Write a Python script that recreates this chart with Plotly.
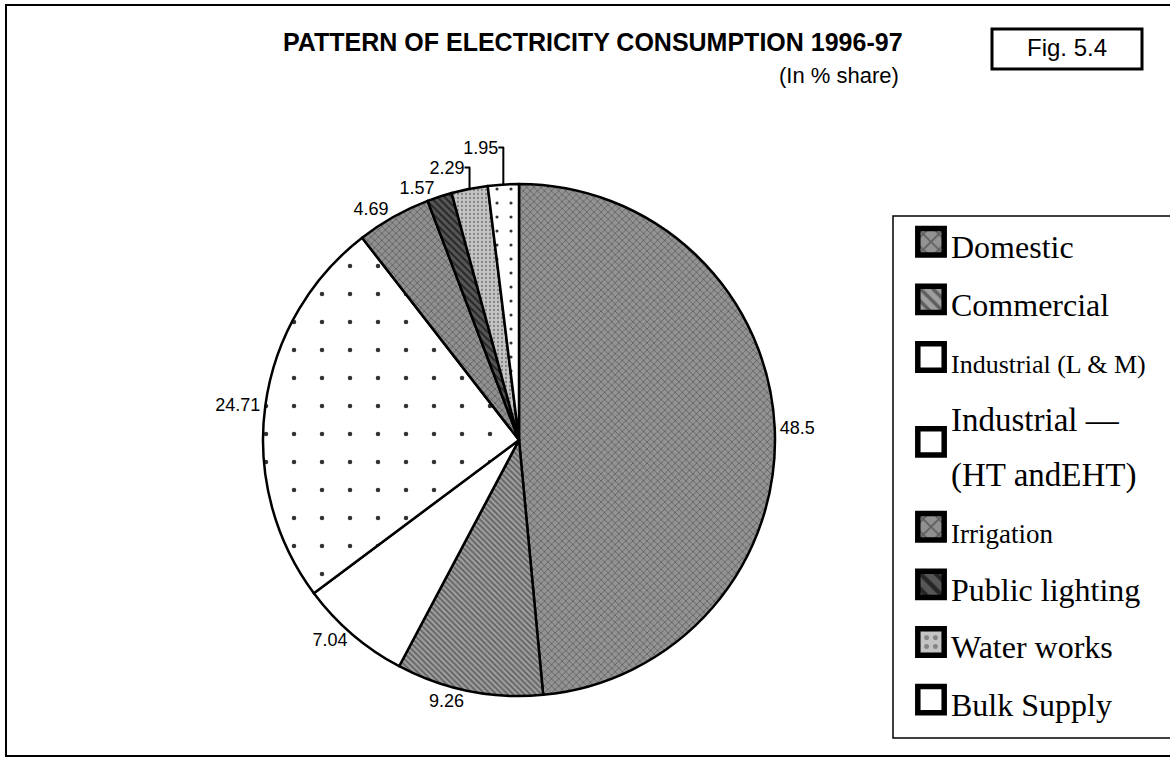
import plotly.graph_objects as go

# ---- data ----
labels = ["Domestic", "Commercial", "Industrial (L & M)", "Industrial —<br>(HT andEHT)",
          "Irrigation", "Public lighting", "Water works", "Bulk Supply"]
shares = [48.5, 9.26, 7.04, 24.71, 4.69, 1.57, 2.29, 1.95]
share_text = ["48.5", "9.26", "7.04", "24.71", "4.69", "1.57", "2.29", "1.95"]

# ---- styles (per slice) ----
legend_px = [32, 32, 26, 33, 27, 32, 32, 32]
bg = ["#939393", "#9e9e9e", "#ffffff", "#ffffff", "#909090", "#565656", "#c4c4c4", "#ffffff"]
fg = ["#606060", "#5e5e5e", "#000000", "#333333", "#5e5e5e", "#262626", "#848484", "#333333"]
pat = ["x", "\\", "", ".", "x", "\\", ".", "."]
pat_size = [5, 4, 8, 28, 5, 5, 4, 14]
pat_solid = [0.3, 0.4, 0.1, 0.02, 0.3, 0.4, 0.25, 0.04]

W, H = 1170, 759
def px_x(v): return v / W
def px_y(v): return 1 - v / H

# legend text sizes differ per entry -> inline spans
leg_labels = [f"<span style='font-size:{s}px'>{l}</span>" for l, s in zip(labels, legend_px)]

# pie centre ~(519,440), radius ~256 px
cx, cy, r = 519, 440, 256

fig = go.Figure()
fig.add_trace(go.Pie(
    labels=leg_labels, values=shares, text=share_text,
    textinfo="text", textposition="outside",
    outsidetextfont=dict(family="Liberation Sans, Arial", size=18, color="black"),
    sort=False, direction="clockwise", rotation=0,
    marker=dict(colors=bg, line=dict(color="black", width=2.5),
                pattern=dict(shape=pat, fgcolor=fg, bgcolor=bg,
                             size=pat_size, solidity=pat_solid)),
    domain=dict(x=[px_x(cx - r), px_x(cx + r)], y=[px_y(cy + r), px_y(cy - r)]),
    hoverinfo="label+value",
))

fig.update_layout(
    width=W, height=H,
    margin=dict(l=0, r=0, t=0, b=0),
    paper_bgcolor="white", plot_bgcolor="white",
    showlegend=True,
    legend=dict(x=px_x(911), y=px_y(208), xanchor="left", yanchor="top",
                font=dict(family="Liberation Serif, Times New Roman", size=42, color="black"),
                bgcolor="rgba(0,0,0,0)", borderwidth=0, traceorder="normal"),
    shapes=[
        # outer frame
        dict(type="rect", xref="paper", yref="paper", x0=px_x(6), x1=px_x(1180),
             y0=px_y(756), y1=px_y(5), line=dict(color="black", width=2)),
        # legend box
        dict(type="rect", xref="paper", yref="paper", x0=px_x(893), x1=px_x(1180),
             y0=px_y(738), y1=px_y(216), line=dict(color="black", width=1.5)),
        # Fig. box
        dict(type="rect", xref="paper", yref="paper", x0=px_x(992), x1=px_x(1142),
             y0=px_y(69), y1=px_y(29), line=dict(color="black", width=3)),
    ],
    annotations=[
        dict(text="<b>PATTERN OF ELECTRICITY CONSUMPTION 1996-97</b>", x=px_x(905), y=px_y(42),
             xref="paper", yref="paper", xanchor="right", yanchor="middle", showarrow=False,
             font=dict(family="Liberation Sans, Arial", size=25, color="black")),
        dict(text="(In % share)", x=px_x(901), y=px_y(76),
             xref="paper", yref="paper", xanchor="right", yanchor="middle", showarrow=False,
             font=dict(family="Liberation Sans, Arial", size=22, color="black")),
        dict(text="Fig. 5.4", x=px_x(1067), y=px_y(47),
             xref="paper", yref="paper", xanchor="center", yanchor="middle", showarrow=False,
             font=dict(family="Liberation Sans, Arial", size=24, color="black")),
    ],
)

# page without body margin; bigger legend swatches like the printed figure
post = ("document.body.style.margin='0';"
        "document.querySelectorAll('.legendpoints path').forEach(function(p){"
        "var t=p.getAttribute('transform')||'';"
        "p.setAttribute('transform',t+' scale(2.2)');});")
fig.write_html("out.html", post_script=post, config={"displayModeBar": False})
